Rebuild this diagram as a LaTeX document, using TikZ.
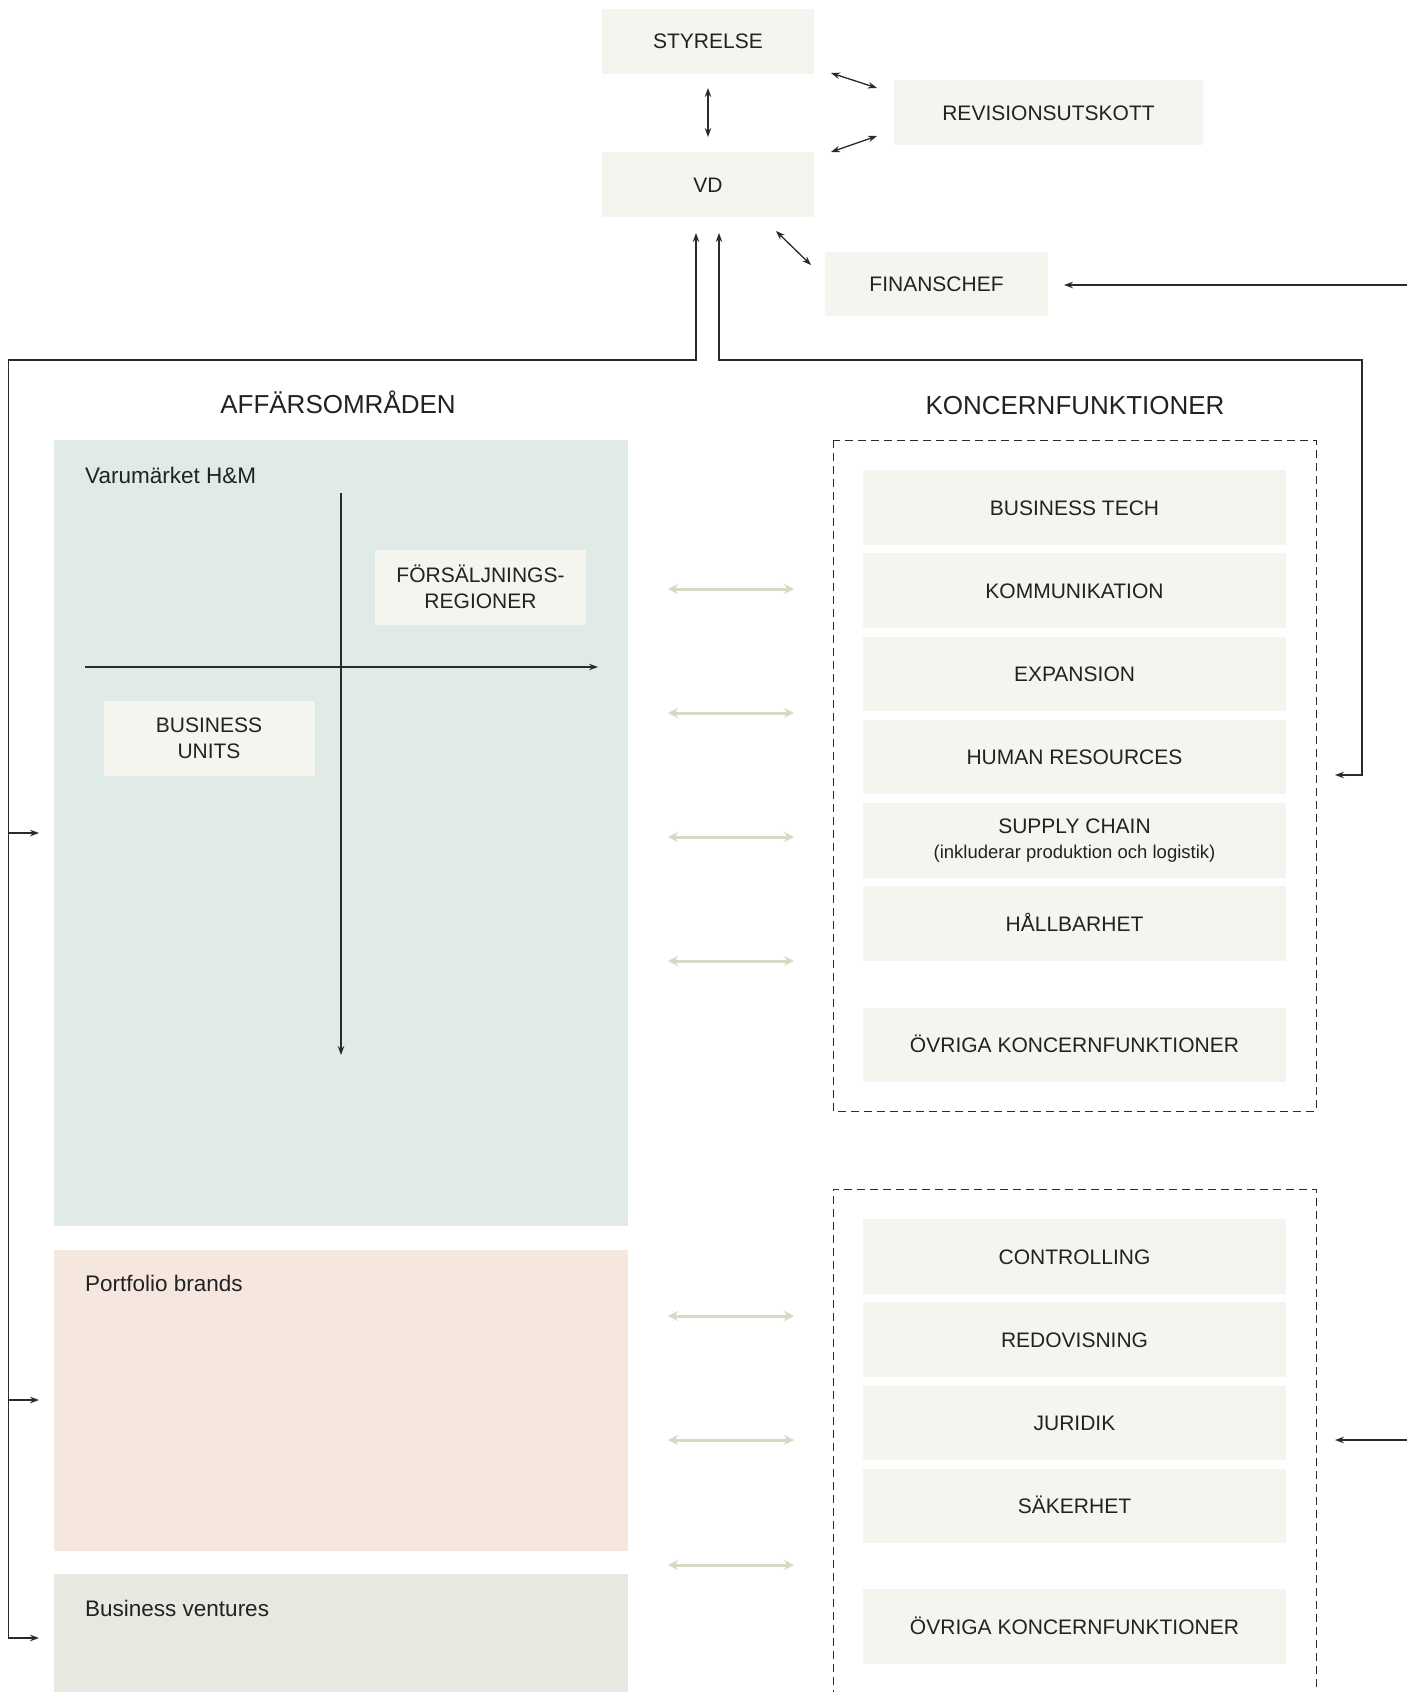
\documentclass[tikz,border=0pt]{standalone}
\usepackage{fontspec}
\setmainfont{Liberation Sans}
\usetikzlibrary{arrows.meta}
\definecolor{cream}{HTML}{F5F5EF}
\definecolor{hmblue}{HTML}{E0EBE8}
\definecolor{peach}{HTML}{F5E7DE}
\definecolor{sagebg}{HTML}{E7E9E0}
\definecolor{greenarrow}{HTML}{D3DBC5}
\definecolor{ink}{HTML}{222222}
\definecolor{lineink}{HTML}{2A2A2A}
\newcommand\fsz[2]{\fontsize{#1}{#2}\selectfont}
\begin{document}
\begin{tikzpicture}[x=1pt,y=-1pt,
  every node/.style={text=ink},
  topbox/.style={fill=cream, inner sep=0, minimum height=65, font=\fsz{21}{26}, align=center, text height=15pt, text depth=0pt},
  cbox/.style={fill=cream, inner sep=0, minimum height=74.5, minimum width=423, font=\fsz{21}{25}, align=center},
  capc/.style={text height=15pt, text depth=0pt},
  qbox/.style={fill=cream, inner sep=0, minimum height=75, minimum width=211, font=\fsz{21}{25.5}, align=center},
  panel/.style={inner sep=0, minimum width=574},
  plabel/.style={anchor=base west, inner sep=0, font=\fsz{22.5}{27}},
  header/.style={anchor=base, inner sep=0, font=\fsz{26}{31}},
  dashbox/.style={draw=lineink, line width=0.9pt, dash pattern=on 8pt off 5pt},
  conn/.style={draw=lineink, line width=1.3pt, -{Stealth[length=9pt,width=6.5pt]}},
  biconn/.style={draw=lineink, line width=1.3pt, {Stealth[length=9pt,width=6.5pt]}-{Stealth[length=9pt,width=6.5pt]}},
  garrow/.style={draw=greenarrow, line width=3pt, {Stealth[length=10pt,width=10pt]}-{Stealth[length=10pt,width=10pt]}}
]
\useasboundingbox (0,0) rectangle (1407,1692);
\fill[white] (0,0) rectangle (1407,1692);

% top management
\node[topbox, minimum width=212] (sty) at (708,41) {STYRELSE};
\node[topbox, minimum width=309] (rev) at (1048.5,112.5) {REVISIONSUTSKOTT};
\node[topbox, minimum width=212] (vd) at (708,184.5) {VD};
\node[topbox, minimum width=223, minimum height=64] (fin) at (936.5,284) {FINANSCHEF};

\coordinate (styB) at (708,88);
\coordinate (vdT) at (708,137);
\coordinate (styR) at (831,73);
\coordinate (revTL) at (877,88);
\coordinate (vdR) at (831,152);
\coordinate (revBL) at (877,136);
\coordinate (vdBR) at (776,231);
\coordinate (finTL) at (811,265);
\coordinate (finIn) at (1064,285);
\coordinate (edgeFin) at (1407,285);
\draw[biconn] (styB) -- (vdT);
\draw[biconn] (styR) -- (revTL);
\draw[biconn] (vdR) -- (revBL);
\draw[biconn] (vdBR) -- (finTL);
\draw[conn] (edgeFin) -- (finIn);

% headers
\node[header] (aff) at (338,413) {AFFÄRSOMRÅDEN};
\node[header] (kon) at (1075,414) {KONCERNFUNKTIONER};

% left panels
\node[panel, fill=hmblue, minimum height=786] (hm) at (341,833) {};
\node[panel, fill=peach, minimum height=301] (pb) at (341,1400.5) {};
\node[panel, fill=sagebg, minimum height=118] (bv) at (341,1633) {};
\node[plabel] (hmlab) at (85,483) {Varumärket H\&M};
\node[plabel] (pblab) at (85,1291) {Portfolio brands};
\node[plabel] (bvlab) at (85,1616) {Business ventures};

% matrix axes
\coordinate (axT) at (341,493);
\coordinate (axB) at (341,1055);
\coordinate (axL) at (85,667);
\coordinate (axR) at (598,667);
\draw[conn, line width=1.1pt] (axT) -- (axB);
\draw[conn, line width=1.1pt] (axL) -- (axR);
\node[qbox] (fr) at (480.5,587) {FÖRSÄLJNINGS-\\REGIONER};
\node[qbox] (bu) at (209,738.5) {BUSINESS\\UNITS};

% right group functions
\draw[dashbox] (833,440) rectangle (1316,1111);
\draw[dashbox] (1316,1700) -- (1316,1189) -- (833,1189) -- (833,1700);
\node[cbox, capc] (bt) at (1074.5,507.5) {BUSINESS TECH};
\node[cbox, capc] (kom) at (1074.5,590.7) {KOMMUNIKATION};
\node[cbox, capc] (exp) at (1074.5,673.9) {EXPANSION};
\node[cbox, capc] (hr) at (1074.5,757.1) {HUMAN RESOURCES};
\node[cbox] (sc) at (1074.5,840.3) {SUPPLY CHAIN\\{\fsz{18.5}{22}(inkluderar produktion och logistik)}};
\node[cbox, capc] (hb) at (1074.5,923.5) {HÅLLBARHET};
\node[cbox, capc] (ov1) at (1074.5,1045) {ÖVRIGA KONCERNFUNKTIONER};
\node[cbox, capc] (con) at (1074.5,1256.5) {CONTROLLING};
\node[cbox, capc] (red) at (1074.5,1339.7) {REDOVISNING};
\node[cbox, capc] (jur) at (1074.5,1422.9) {JURIDIK};
\node[cbox, capc] (sak) at (1074.5,1506.1) {SÄKERHET};
\node[cbox, capc] (ov2) at (1074.5,1626.5) {ÖVRIGA KONCERNFUNKTIONER};

% green double arrows
\foreach \i/\yy in {1/589,2/713,3/837,4/961,5/1316,6/1440,7/1565}{
  \coordinate (gL\i) at (668,\yy);
  \coordinate (gR\i) at (794,\yy);
  \draw[garrow] (gL\i) -- (gR\i);
}

% reporting lines to VD
\coordinate (vdInL) at (696,233);
\coordinate (vdInR) at (719,233);
\coordinate (cornL) at (696,360);
\coordinate (farL) at (8.6,360);
\coordinate (botL) at (8.6,1638);
\coordinate (bvIn) at (39,1638);
\coordinate (midL1) at (8.6,833);
\coordinate (hmIn) at (39,833);
\coordinate (midL2) at (8.6,1400);
\coordinate (pbIn) at (39,1400);
\draw[biconn] (bvIn) -- (botL) -- (farL) -- (cornL) -- (vdInL);
\draw[conn] (midL1) -- (hmIn);
\draw[conn] (midL2) -- (pbIn);

\coordinate (cornR) at (719,360);
\coordinate (farR) at (1362,360);
\coordinate (botR) at (1362,775);
\coordinate (hrIn) at (1335,775);
\draw[biconn] (hrIn) -- (botR) -- (farR) -- (cornR) -- (vdInR);

\coordinate (edgeJur) at (1407,1440);
\coordinate (jurIn) at (1335,1440);
\draw[conn] (edgeJur) -- (jurIn);
\end{tikzpicture}
\end{document}
